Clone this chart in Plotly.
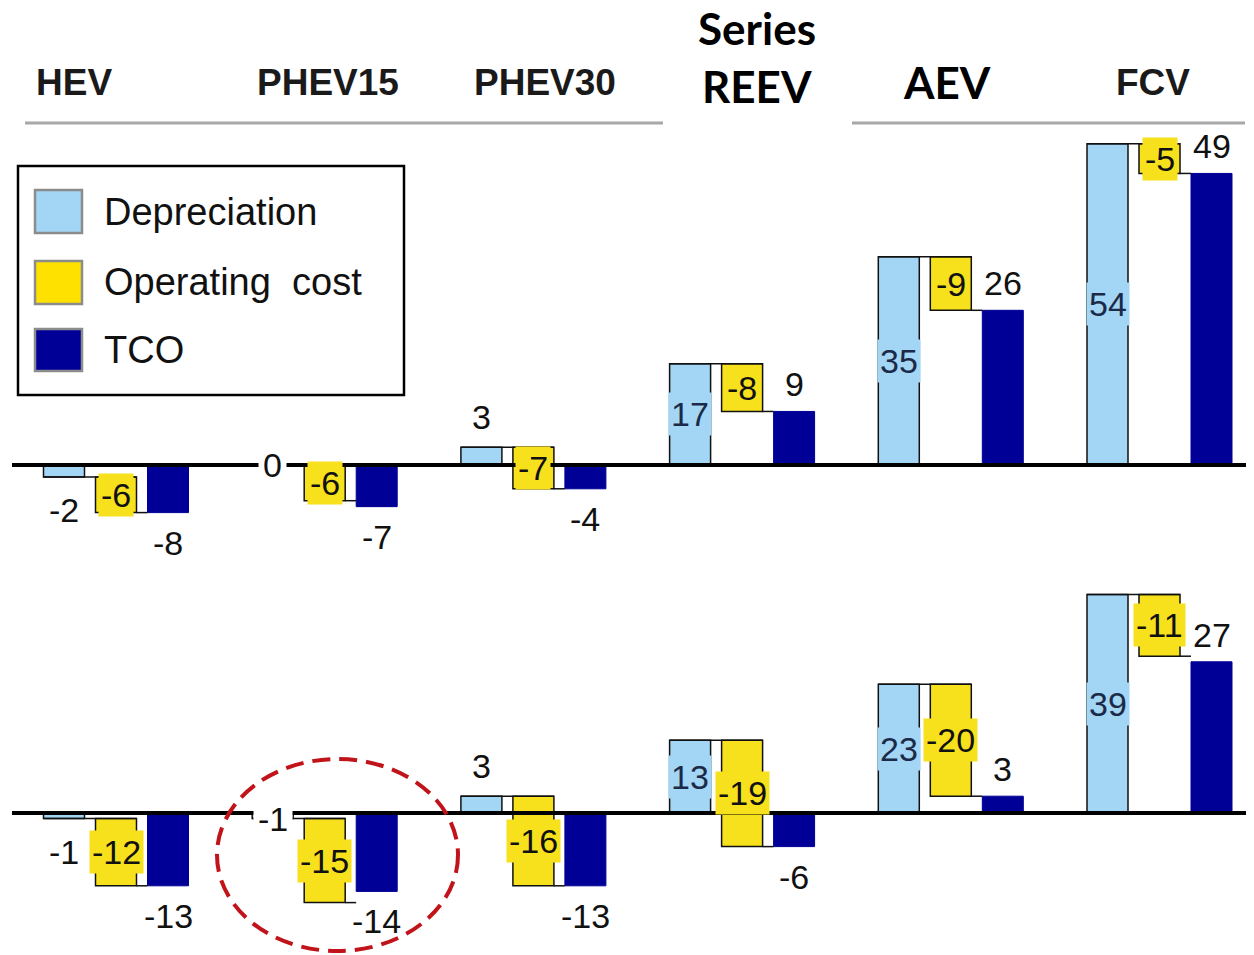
import plotly.graph_objects as go

# ---- data -------------------------------------------------------------
vehicles = ["HEV", "PHEV15", "PHEV30", "Series REEV", "AEV", "FCV"]

# upper panel
dep_top = [-2, 0, 3, 17, 35, 54]
op_top = [-6, -6, -7, -8, -9, -5]
tco_top = [-8, -7, -4, 9, 26, 49]

# lower panel
dep_bot = [-1, -1, 3, 13, 23, 39]
op_bot = [-12, -15, -16, -19, -20, -11]
tco_bot = [-13, -14, -13, -6, 3, 27]

# where each depreciation label sits relative to its bar
dep_label_style = ["below", "on", "above", "inside", "inside", "inside"]

# ---- styling / layout constants ----------------------------------------
W, H = 1254, 955
C_DEP = "#A3D6F5"
C_OP = "#F7E01C"
C_TCO = "#000096"
FONT = "Liberation Sans"
LBL_SIZE = 34

GROUP_PX0, GROUP_PITCH = 116, 208.7      # pixel centre of first group, pitch
BAR_STEP, BAR_W = 52, 41                 # pixel step between bars, bar width
STEP = BAR_STEP / GROUP_PITCH
BW = BAR_W / GROUP_PITCH
X0 = -GROUP_PX0 / GROUP_PITCH
X1 = X0 + W / GROUP_PITCH

# panel baselines (pixel row of value 0) and pixels per unit
BASE_TOP, K_TOP = 465, 5.95
BASE_BOT, K_BOT = 813, 5.6


def yrange(base, k):
    return [(base - H) / k, base / k]


def px(x):
    return x / W


def py(y):
    return 1 - y / H


xs = list(range(len(vehicles)))
fig = go.Figure()
annotations = []
shapes = []


def add_panel(dep, op, tco, yaxis, yref):
    fig.add_trace(go.Bar(
        x=xs, y=dep, base=[0] * len(dep), width=BW, offset=-STEP - BW / 2,
        marker=dict(color=C_DEP, line=dict(color="#111111", width=1.5)),
        yaxis=yaxis, showlegend=False, name="Depreciation"))
    fig.add_trace(go.Bar(
        x=xs, y=op, base=dep, width=BW, offset=-BW / 2,
        marker=dict(color=C_OP, line=dict(color="#111111", width=1.5)),
        yaxis=yaxis, showlegend=False, name="Operating cost"))
    fig.add_trace(go.Bar(
        x=xs, y=tco, base=[0] * len(tco), width=BW, offset=STEP - BW / 2,
        marker=dict(color=C_TCO, line=dict(color=C_TCO, width=1)),
        yaxis=yaxis, showlegend=False, name="TCO"))

    # step connectors between consecutive bars
    cx, cy = [], []
    for i, (d, o) in enumerate(zip(dep, op)):
        cx += [i - STEP - BW / 2, i + BW / 2, None]
        cy += [d, d, None]
        cx += [i + BW / 2, i + STEP - BW / 2, None]
        cy += [d + o, d + o, None]
    fig.add_trace(go.Scatter(x=cx, y=cy, mode="lines", yaxis=yaxis,
                             line=dict(color="#111111", width=1.5),
                             showlegend=False, hoverinfo="skip"))

    # zero line
    shapes.append(dict(type="line", xref="paper", yref=yref,
                       x0=px(12), x1=px(1246), y0=0, y1=0,
                       line=dict(color="black", width=4), layer="above"))

    for i in xs:
        d, o, t = dep[i], op[i], tco[i]
        st = dep_label_style[i]
        a = dict(x=i - STEP, xref="x", yref=yref, text=str(d), showarrow=False,
                 xanchor="center", yanchor="middle",
                 font=dict(family=FONT, size=LBL_SIZE, color="#111111"))
        if st == "inside":
            a.update(y=d / 2, bgcolor=C_DEP, borderpad=2,
                     font=dict(family=FONT, size=LBL_SIZE, color="#1B2A48"))
        elif st == "above":
            a.update(y=d, yshift=30)
        elif st == "below":
            a.update(y=d, yshift=-33)
        else:
            a.update(y=d, bgcolor="white", borderpad=4)
        annotations.append(a)

        annotations.append(dict(
            x=i, y=d + o / 2, xref="x", yref=yref, text=str(o), showarrow=False,
            xanchor="center", yanchor="middle", bgcolor=C_OP, borderpad=2,
            font=dict(family=FONT, size=LBL_SIZE, color="#111111")))

        annotations.append(dict(
            x=i + STEP, y=t, xref="x", yref=yref, text=str(t), showarrow=False,
            xanchor="center", yanchor="middle",
            yshift=27 if t >= 0 else -30,
            font=dict(family=FONT, size=LBL_SIZE, color="#111111")))


add_panel(dep_top, op_top, tco_top, "y", "y")
add_panel(dep_bot, op_bot, tco_bot, "y2", "y2")


def paper_text(x, y, text, font, anchor="center"):
    annotations.append(dict(x=px(x), y=py(y), xref="paper", yref="paper",
                            xanchor=anchor, yanchor="middle", text=text,
                            showarrow=False, font=font))


# ---- column headers ------------------------------------------------------
header_x = [74, 328, 545, 757, 947, 1153]
for name, hx in zip(vehicles, header_x):
    if name == "Series REEV":
        paper_text(hx, 28, "<b>Series</b>", dict(family="Lato", size=44, color="black"))
        paper_text(hx, 86, "<b>REEV</b>", dict(family="Lato", size=44, color="black"))
    elif name == "AEV":
        paper_text(hx, 82, f"<b>{name}</b>", dict(family="Lato", size=44, color="black"))
    else:
        paper_text(hx, 83, f"<b>{name}</b>", dict(family=FONT, size=37, color="#1a1a1a"))

for xa, xb in ((25, 663), (852, 1245)):
    shapes.append(dict(type="line", xref="paper", yref="paper",
                       x0=px(xa), x1=px(xb), y0=py(123), y1=py(123),
                       line=dict(color="#A8A8A8", width=3)))

# ---- legend box ------------------------------------------------------------
shapes.append(dict(type="rect", xref="paper", yref="paper",
                   x0=px(18), x1=px(404), y0=py(395), y1=py(166),
                   line=dict(color="black", width=2.5), fillcolor="white"))
legend_items = [("Depreciation", C_DEP, 190, 233, 212),
                ("Operating\u00a0 cost", "#FFE100", 261, 304, 282),
                ("TCO", C_TCO, 329, 371, 350)]
for label, col, ya, yb, yc in legend_items:
    shapes.append(dict(type="rect", xref="paper", yref="paper",
                       x0=px(35), x1=px(82), y0=py(yb), y1=py(ya),
                       line=dict(color="#8C8C8C", width=2.5), fillcolor=col))
    paper_text(102, yc, label, dict(family=FONT, size=38, color="#111111"),
               anchor="left")

# ---- highlight ring around the PHEV15 lower group ---------------------------
shapes.append(dict(type="circle", xref="paper", yref="paper",
                   x0=px(217), x1=px(458), y0=py(951), y1=py(759),
                   line=dict(color="#C0141A", width=4, dash="18px,9px")))

fig.update_layout(
    width=W, height=H,
    margin=dict(l=0, r=0, t=0, b=0),
    paper_bgcolor="white", plot_bgcolor="white",
    barmode="overlay",
    xaxis=dict(range=[X0, X1], visible=False, fixedrange=True),
    yaxis=dict(range=yrange(BASE_TOP, K_TOP), domain=[0, 1], visible=False),
    yaxis2=dict(range=yrange(BASE_BOT, K_BOT), domain=[0, 1], visible=False,
                overlaying="y"),
    shapes=shapes,
    annotations=annotations,
    showlegend=False,
)

fig.write_html("out.html")
